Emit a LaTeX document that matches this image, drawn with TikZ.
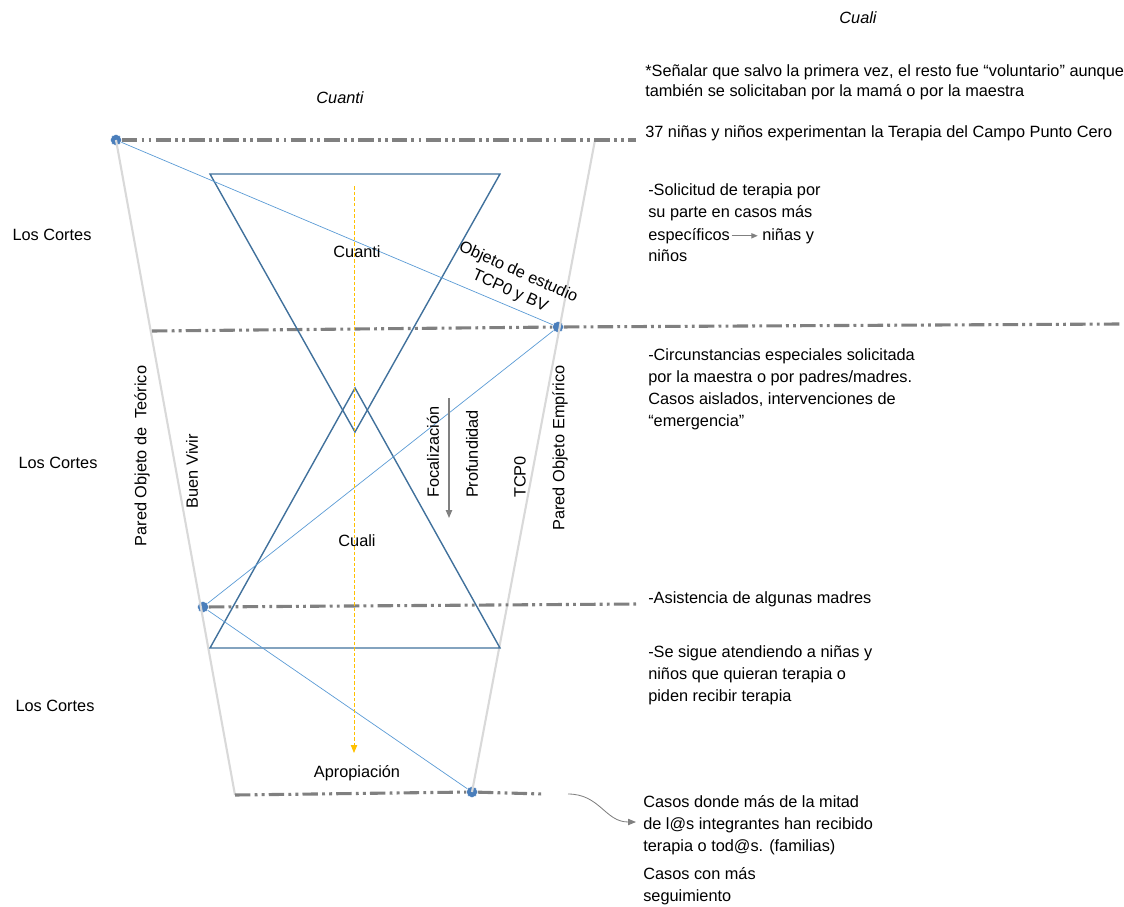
\documentclass[tikz,border=0pt]{standalone}
\usepackage{fontspec}
\setmainfont{Liberation Sans}
\usetikzlibrary{arrows.meta,positioning}
\definecolor{wallgray}{HTML}{D9D9D9}
\definecolor{cutgray}{HTML}{808080}
\definecolor{triblue}{HTML}{41719C}
\definecolor{linkblue}{HTML}{5B9BD5}
\definecolor{dotblue}{HTML}{4A7EBB}
\definecolor{flowyellow}{HTML}{FFC000}

\begin{document}
\begin{tikzpicture}[
  x=0.025cm, y=-0.025cm,
  font=\fontsize{11.6}{15.6}\selectfont,
  dot/.style={circle, fill=dotblue, draw=white, line width=0.3pt, inner sep=0pt, minimum size=2.8mm},
  cut/.style={cutgray, line width=2.2pt, dash pattern=on 11pt off 3pt on 2pt off 3pt on 2pt off 3pt},
  wall/.style={wallgray, line width=1.5pt},
  tri/.style={triblue, line width=1pt, line join=miter},
  link/.style={linkblue, line width=0.5pt},
  note/.style={anchor=base west, align=left, inner sep=0pt},
  side/.style={inner sep=0pt, rotate=90},
  >={Triangle[length=2mm, width=1.6mm]}
]
  \useasboundingbox (0,0) rectangle (1124,907);

  % the cut points
  \node[dot] (p1) at (116,140) {};
  \node[dot] (p2) at (558,327) {};
  \node[dot] (p3) at (203,607) {};
  \node[dot] (p4) at (472,792) {};

  \coordinate (c1e) at (636,140);
  \coordinate (c2s) at (152,331);
  \coordinate (c2e) at (1120,324);
  \coordinate (c3e) at (636,604);
  \coordinate (c4s) at (235,795);
  \coordinate (c4e) at (543,794);
  \coordinate (wr) at (595,140);

  % walls
  \draw[wall] (p1.center) -- (c4s);
  \draw[wall] (wr) -- (p4.center);

  % cuts
  \draw[cut] (p1) -- (c1e);
  \draw[cut] (c2s) -- (p2) -- (c2e);
  \draw[cut] (p3) -- (c3e);
  \draw[cut] (c4s) -- (p4) -- (c4e);

  % hourglass
  \coordinate (ta) at (210,174);
  \coordinate (tb) at (500,174);
  \coordinate (tc) at (355,432);
  \coordinate (ba) at (210,648);
  \coordinate (bb) at (500,648);
  \coordinate (bc) at (355,388);
  \draw[tri] (ta) -- (tb) -- (tc) -- cycle;
  \draw[tri] (ba) -- (bb) -- (bc) -- cycle;

  % links
  \draw[link] (p1) -- (p2);
  \draw[link] (p2) -- (p3);
  \draw[link] (p3) -- (p4);

  % flows
  \coordinate (ya) at (354,186);
  \coordinate (yb) at (354,753);
  \draw[->, flowyellow, line width=0.7pt, dash pattern=on 2.5pt off 1.5pt] (ya) -- (yb);
  \coordinate (ga) at (449,398);
  \coordinate (gb) at (449,518);
  \draw[->, cutgray, line width=0.8pt] (ga) -- (gb);

  % labels in the picture
  \node (cuanti) at (357,252) {Cuanti};
  \node (cuali) at (357,541) {Cuali};
  \node (aprop) at (357,773) {Apropiación};
  \node[rotate=-24, align=center, inner sep=0pt] (obj) at (514,282) {Objeto de estudio\\[-1pt]TCP0 y BV};
  \node[side] (teor) at (142,456) {Pared Objeto de\ \ Teórico};
  \node[side] (buen) at (192,471) {Buen Vivir};
  \node[side] (foco) at (433,452) {Focalización};
  \node[side] (prof) at (472,454) {Profundidad};
  \node[side] (tcp) at (520,477) {TCP0};
  \node[side] (emp) at (560,448) {Pared Objeto Empírico};

  \node (corte1) at (52,235) {Los Cortes};
  \node (corte2) at (58,463) {Los Cortes};
  \node (corte3) at (55,706) {Los Cortes};

  \node[font=\fontsize{11.6}{15.6}\selectfont\itshape] (tcuanti) at (340,98) {Cuanti};
  \node[font=\fontsize{11.6}{15.6}\selectfont\itshape] (tcuali) at (858,18) {Cuali};

  % notes on the right (placed at the baseline of their last line)
  \node[note] (senal) at (645,96) {*Señalar que salvo la primera vez, el resto fue “voluntario” aunque\\[-1.5pt]también se solicitaban por la mamá o por la maestra};
  \node[note] (treinta) at (645,138) {37 niñas y niños experimentan la Terapia del Campo Punto Cero};
  \node[note] (solic) at (648,217) {-Solicitud de terapia por\\su parte en casos más};
  \node[note] (esp) at (648,240) {específicos};
  \node[note] (ninas) at (762,240) {niñas y};
  \node[note] (ninos) at (648,261) {niños};
  \draw[->, cutgray, line width=0.8pt, >={Triangle[length=1.6mm, width=1.3mm]}] ([xshift=1pt, yshift=3pt]esp.base east) -- ([xshift=-3pt, yshift=3pt]ninas.base west);
  \node[note] (circ) at (648,426) {-Circunstancias especiales solicitada\\por la maestra o por padres/madres.\\Casos aislados, intervenciones de\\“emergencia”};
  \node[note] (asist) at (648,603) {-Asistencia de algunas madres};
  \node[note] (sigue) at (648,701) {-Se sigue atendiendo a niñas y\\niños que quieran terapia o\\piden recibir terapia};
  \node[note] (casos) at (643,851) {Casos donde más de la mitad\\de l@s integrantes han recibido\\terapia o tod@s. (familias)};
  \node[note] (segui) at (643,901) {Casos con más\\seguimiento};

  \coordinate (cs) at (568,794);
  \coordinate (ce) at (636,822);
  \draw[->, cutgray, line width=0.6pt] (cs) .. controls (600,794) and (605,822) .. (ce);
\end{tikzpicture}
\end{document}
